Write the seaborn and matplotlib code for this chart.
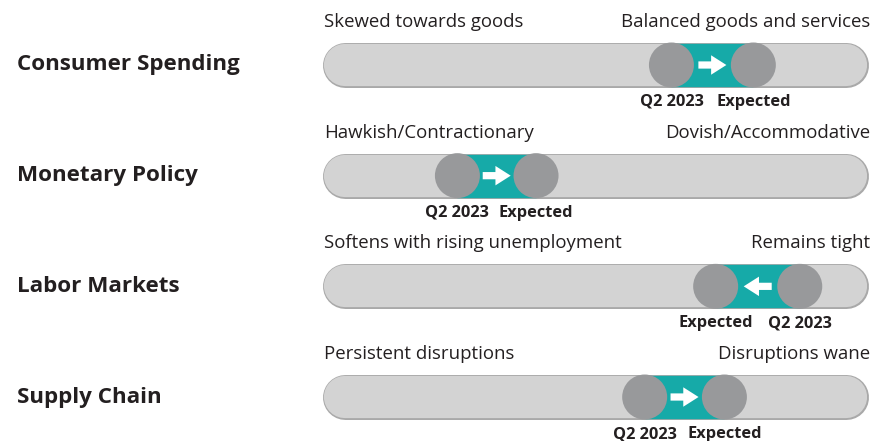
import matplotlib
matplotlib.use("Agg")
import matplotlib.pyplot as plt
import seaborn as sns
import pandas as pd

# ---- data ----
categories = ["Consumer Spending", "Monetary Policy", "Labor Markets", "Supply Chain"]
left_labels = ["Skewed towards goods", "Hawkish/Contractionary",
               "Softens with rising unemployment", "Persistent disruptions"]
right_labels = ["Balanced goods and services", "Dovish/Accommodative",
                "Remains tight", "Disruptions wane"]
q2_2023 = [64.0, 24.8, 87.5, 59.1]      # position on 0-100 scale
expected = [79.0, 39.2, 72.1, 73.7]
point_labels = ["Q2 2023", "Expected"]

sns.set_theme(style="white")
plt.rcParams["font.family"] = ["Open Sans", "DejaVu Sans"]

W, H, DPI = 873, 441, 100
fig = plt.figure(figsize=(W / DPI, H / DPI), dpi=DPI)
ax = fig.add_axes([0, 0, 1, 1])

# scale: data 0..100 spans pixels 322..868
px_per_x = 5.46
x0_px = 322
px_per_y = 110.67
row0_px = 65

bar_h_px = 45
bar_lw = bar_h_px * 72 / DPI
cap = (bar_h_px / 2) / px_per_x
txt = "#231f20"
teal = "#16aaa8"
grey_circle = "#98999b"

rows = list(range(len(categories)))
for i in rows:
    # track
    ax.plot([cap, 100 - cap], [i, i], color="#a9a9a9", lw=bar_lw,
            solid_capstyle="round", zorder=1)
    ax.plot([cap, 100 - cap], [i, i], color="#d3d3d3", lw=bar_lw - 2.0,
            solid_capstyle="round", zorder=2)
    # teal band between points
    ax.plot([q2_2023[i], expected[i]], [i, i], color=teal, lw=bar_lw - 1.2,
            solid_capstyle="butt", zorder=3)

# circles
df = pd.DataFrame({
    "pos": q2_2023 + expected,
    "row": rows + rows,
})
circ_pt = bar_h_px * 72 / DPI
sns.scatterplot(data=df, x="pos", y="row", s=circ_pt ** 2, color=grey_circle,
                edgecolor="none", linewidth=0, ax=ax, zorder=4, legend=False)
ax.set_xlabel("")
ax.set_ylabel("")
ax.set_xlim(-x0_px / px_per_x, (W - x0_px) / px_per_x)
ax.set_ylim((H - row0_px) / px_per_y, -row0_px / px_per_y)
ax.axis("off")

arrow_half = 14 / px_per_x
for i in rows:
    a, b = q2_2023[i], expected[i]
    mid = (a + b) / 2
    d = 1 if b > a else -1
    ax.annotate("", xy=(mid + d * arrow_half, i), xytext=(mid - d * arrow_half, i),
                arrowprops=dict(arrowstyle="simple,head_length=11,head_width=14,tail_width=5.2",
                                color="white", shrinkA=0, shrinkB=0, mutation_scale=1,
                                lw=0),
                zorder=5)
    # row label
    ax.text(17 / px_per_x - x0_px / px_per_x, i, categories[i], fontsize=16.1,
            fontweight="bold", color=txt, ha="left", va="center")
    # end labels
    ty = i - 43 / px_per_y
    ax.text(0.4, ty, left_labels[i], fontsize=13.4, color=txt, ha="left", va="center")
    ax.text(100.4, ty, right_labels[i], fontsize=13.4, color=txt, ha="right", va="center")
    # point labels
    ly = i + 37 / px_per_y
    ax.text(a, ly, point_labels[0], fontsize=11.8, fontweight="bold", color=txt,
            ha="center", va="center")
    ax.text(b, ly, point_labels[1], fontsize=11.8, fontweight="bold", color=txt,
            ha="center", va="center")

fig.savefig("out.png", dpi=DPI)
